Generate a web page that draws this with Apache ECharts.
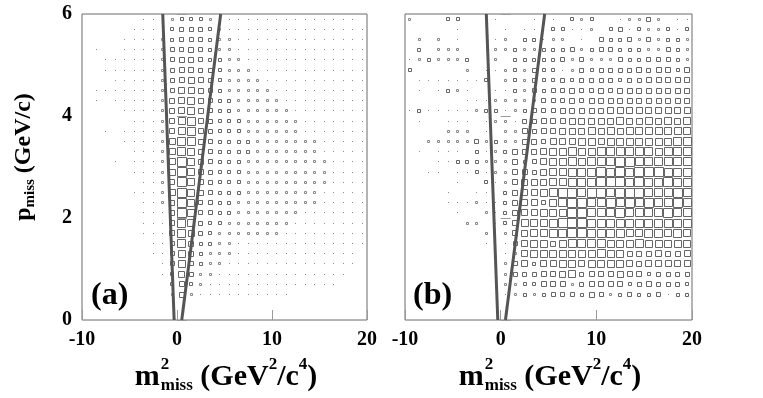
<!DOCTYPE html>
<html>
<head>
<meta charset="UTF-8">
<title>m2miss - pmiss</title>
<script src="https://cdn.jsdelivr.net/npm/echarts@6/dist/echarts.min.js"></script>
<style>
  html, body { margin: 0; padding: 0; background: #fff; }
  #main { width: 763px; height: 398px; }
</style>
</head>
<body>
<div id="main"></div>
<script>
// bin centres (1 GeV^2/c^4 wide in m2, 0.2 GeV/c high in p)
var mCenters = [-9.5, -8.5, -7.5, -6.5, -5.5, -4.5, -3.5, -2.5, -1.5, -0.5,
                0.5, 1.5, 2.5, 3.5, 4.5, 5.5, 6.5, 7.5, 8.5, 9.5,
                10.5, 11.5, 12.5, 13.5, 14.5, 15.5, 16.5, 17.5, 18.5, 19.5];
var pCenters = [5.9, 5.7, 5.5, 5.3, 5.1, 4.9, 4.7, 4.5, 4.3, 4.1,
                3.9, 3.7, 3.5, 3.3, 3.1, 2.9, 2.7, 2.5, 2.3, 2.1,
                1.9, 1.7, 1.5, 1.3, 1.1, 0.9, 0.7, 0.5, 0.3, 0.1];

// box size per bin (0..9), one string per p row from top (p=6) to bottom (p=0)
var boxesA = [
  "000000111233321111111111111110",
  "000001111344432111111111111111",
  "000011112344432211111111111111",
  "010011112445432211111111111111",
  "001111112455433221111111111111",
  "001111112455443222111111111111",
  "000111112456543222211111111111",
  "011111112466543222221111111111",
  "010111112567543322222111111111",
  "000011112567543322222211111111",
  "000001112578543332222221111111",
  "001011112578543332222221111111",
  "000011112688543333222222211111",
  "000001112687543333222222211111",
  "000101112697543332222222221111",
  "000001112697543332222222221111",
  "000000112597543332222222221111",
  "000001112697543332222222211111",
  "000000112597443322222222211111",
  "000000111597443322222221111111",
  "000000111587433222222211111111",
  "000000111586432222222111111111",
  "000000011485332211111111111111",
  "000000011475322211111111111110",
  "000000001474322111111111111110",
  "000000001364221111111111111100",
  "000000000353211111111111111000",
  "000000000252111111111100000000",
  "000000000000000000000000000000",
  "000000000000000000000000000000"
];
var boxesB = [
  "200033000100010103230012242011",
  "000001000010110331120341322313",
  "020201000120331220104334242332",
  "030222001223223334234433322432",
  "123222300203333342422243344432",
  "300000201123243312434444545535",
  "011111113023243343444434455555",
  "010132100113243445445455555555",
  "000000111222224445455555555555",
  "131111123312344455555666666666",
  "010011101221445556666676676767",
  "000022201022545566676767777777",
  "002222242322554666776777777788",
  "010111031235556778778888887888",
  "000113332225346778788899888888",
  "001101131225546778889898999888",
  "000001003125666778889998988988",
  "000010011035667899899899988898",
  "000011121135664789988989898898",
  "000001002135667779988898888988",
  "000000220135777899988888888888",
  "000000002025677889988887788787",
  "000000001014677578888777877777",
  "000000000012677777778775556556",
  "000000000024636677677776566666",
  "000000000024445567455565534444",
  "000000000022335552455553454443",
  "000000000012323444354234334133",
  "000000000000000000000000000000",
  "000000000000000000000000000000"
];

// selection cut lines [m2, p]
var cutLeft = [[-0.3, 0], [-1.5, 6]];
var cutRight = [[0.5, 0], [4.6, 6]];

function toPoints(rows) {
  var out = [];
  for (var r = 0; r < rows.length; r++) {
    for (var c = 0; c < rows[r].length; c++) {
      var v = +rows[r].charAt(c);
      if (v > 0) out.push([mCenters[c], pCenters[r], v]);
    }
  }
  return out;
}

var serif = "'Liberation Serif', 'DejaVu Serif'";

function renderBox(params, api) {
  var c = api.coord([api.value(0), api.value(1)]);
  var s = api.size([1, 0.2]);
  var v = api.value(2);
  if (v === 1) {
    return {
      type: 'rect',
      shape: { x: Math.round(c[0] - 0.5), y: Math.round(c[1] - 0.5), width: 1, height: 1 },
      style: { fill: '#8a8a8a', stroke: null }
    };
  }
  // box side grows with bin content, full bin at the top value
  var side = Math.min(v + 1, Math.round(Math.max(s[0], s[1])));
  var x = Math.round(c[0] - side / 2) + 0.5;
  var y = Math.round(c[1] - side / 2) + 0.5;
  return {
    type: 'rect',
    shape: { x: x, y: y, width: side - 1, height: side - 1 },
    style: { fill: 'none', stroke: v === 2 ? '#8a8a8a' : '#666', lineWidth: 1 }
  };
}

// measure helper for hand-placed titles
var mctx = document.createElement('canvas').getContext('2d');
function tw(txt, size) {
  mctx.font = 'bold ' + size + 'px ' + serif;
  return mctx.measureText(txt).width;
}
function mText(txt, x, y, size) {
  return { type: 'text', x: x, y: y, silent: true,
    style: { text: txt, fontFamily: serif, fontWeight: 'bold', fontSize: size, fill: '#000', align: 'left', verticalAlign: 'middle' } };
}
function xTitle(cx, cy) {
  var M = 30, S = 17;
  var parts = [];
  var x = 0;
  parts.push(['m', x, 0, M]); x += tw('m', M) + 1;
  parts.push(['2', x, -M * 0.42, S]);
  parts.push(['miss', x, M * 0.3, S]);
  x += Math.max(tw('2', S), tw('miss', S));
  parts.push([' (GeV', x, 0, M]); x += tw(' (GeV', M);
  parts.push(['2', x, -M * 0.42, S]); x += tw('2', S);
  parts.push(['/c', x, 0, M]); x += tw('/c', M);
  parts.push(['4', x, -M * 0.42, S]); x += tw('4', S);
  parts.push([')', x, 0, M]); x += tw(')', M);
  var left = cx - x / 2;
  return parts.map(function (p) { return mText(p[0], left + p[1], cy + p[2], p[3]); });
}

var xLabel = { fontFamily: serif, fontWeight: 'bold', fontSize: 20, color: '#000', margin: 10 };
var yLabel = { fontFamily: serif, fontWeight: 'bold', fontSize: 20, color: '#000', margin: 10 };
var tick = { inside: true, length: 10, lineStyle: { color: '#9a9a9a', width: 1 } };

function xAx(i) {
  return { type: 'value', gridIndex: i, min: -10, max: 20, interval: 10,
    axisLine: { show: false }, axisTick: tick, axisLabel: xLabel, splitLine: { show: false } };
}
function yAx(i, labels) {
  return { type: 'value', gridIndex: i, min: 0, max: 6, interval: 2,
    axisLine: { show: false }, axisTick: tick,
    axisLabel: labels ? yLabel : { show: false }, splitLine: { show: false } };
}
function cut(data, i) {
  return { type: 'line', xAxisIndex: i, yAxisIndex: i, data: data, symbol: 'none', silent: true,
    lineStyle: { color: '#555', width: 3 }, z: 5 };
}

var option = {
  animation: false,
  backgroundColor: '#fff',
  grid: [
    { left: 82, top: 14, width: 285, height: 306, show: true, borderColor: '#6a6a6a', borderWidth: 1 },
    { left: 405, top: 14, width: 287, height: 306, show: true, borderColor: '#6a6a6a', borderWidth: 1 }
  ],
  xAxis: [xAx(0), xAx(1)],
  yAxis: [yAx(0, true), yAx(1, false)],
  series: [
    { type: 'custom', xAxisIndex: 0, yAxisIndex: 0, renderItem: renderBox, data: toPoints(boxesA), silent: true },
    { type: 'custom', xAxisIndex: 1, yAxisIndex: 1, renderItem: renderBox, data: toPoints(boxesB), silent: true },
    cut(cutLeft, 0), cut(cutRight, 0),
    cut(cutLeft, 1), cut(cutRight, 1)
  ],
  graphic: [
    mText('(a)', 91, 296, 32),
    mText('(b)', 413, 296, 32),
    { type: 'group', children: xTitle(226, 377) },
    { type: 'group', children: xTitle(550, 377) },
    { type: 'text', x: 24, y: 157, rotation: Math.PI / 2, silent: true,
      style: { text: '{a|p}{b|miss}{a| (GeV/c)}', align: 'center', verticalAlign: 'middle',
        rich: {
          a: { fontFamily: serif, fontWeight: 'bold', fontSize: 24, lineHeight: 28, fill: '#000', verticalAlign: 'middle' },
          b: { fontFamily: serif, fontWeight: 'bold', fontSize: 15, lineHeight: 15, fill: '#000', verticalAlign: 'bottom' }
        } } }
  ]
};

var myChart = echarts.init(document.getElementById('main'));
myChart.setOption(option);
</script>
</body>
</html>
